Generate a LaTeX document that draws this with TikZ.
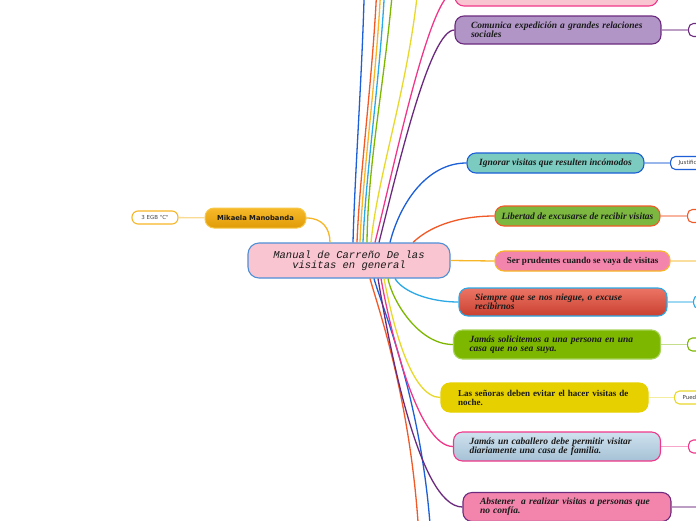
\documentclass[tikz,border=0pt]{standalone}
\usepackage{fontspec}
\setmainfont{Liberation Serif}
\newfontfamily\cmono{Liberation Mono}
\newfontfamily\csans{DejaVu Sans}
\usetikzlibrary{calc}
\definecolor{txt}{HTML}{1A1A1A}
\definecolor{cpink}{HTML}{F9C5D1}
\definecolor{cblue}{HTML}{4E8FD6}
\definecolor{pinkL}{HTML}{F9C5D1}
\definecolor{pinkD}{HTML}{F0388A}
\definecolor{purL}{HTML}{B095C6}
\definecolor{purD}{HTML}{6C2A7E}
\definecolor{tealF}{HTML}{7BCBC0}
\definecolor{blueD}{HTML}{1C5FD6}
\definecolor{greenL}{HTML}{7CB83F}
\definecolor{orangeD}{HTML}{F05A28}
\definecolor{pinkM}{HTML}{F385AC}
\definecolor{orangeY}{HTML}{F6B626}
\definecolor{redT}{HTML}{EC7566}
\definecolor{redB}{HTML}{C9402F}
\definecolor{lblue}{HTML}{2AA9E6}
\definecolor{greenB}{HTML}{7DB700}
\definecolor{greenE}{HTML}{A8D35A}
\definecolor{yellowF}{HTML}{E6D000}
\definecolor{yellowD}{HTML}{E8D82A}
\definecolor{lbT}{HTML}{CFE2EF}
\definecolor{lbB}{HTML}{A5C1D5}
\definecolor{mikT}{HTML}{F7BA2A}
\definecolor{mikB}{HTML}{E09B07}
\definecolor{mikE}{HTML}{F5C84A}
\tikzset{
  mbox/.style={rounded corners=9pt, line width=1.1pt, inner ysep=0pt, inner xsep=16pt,
    align=left, text=txt, font=\fontsize{9.5}{9}\selectfont\bfseries\itshape},
  sbox/.style={rounded corners=9pt, line width=1.1pt, inner ysep=0pt, inner xsep=0pt,
    align=center, text=txt, font=\fontsize{9.5}{9}\selectfont\bfseries\itshape},
  upright/.style={font=\fontsize{9}{9}\selectfont\bfseries},
  tag/.style={rounded corners=5pt, line width=1.1pt, fill=white, anchor=west,
    minimum height=13pt, inner xsep=8pt, inner ysep=0pt, text width=34pt, align=left,
    text=txt!85, font=\csans\fontsize{5.5}{5.5}\selectfont},
  link/.style={line width=1.3pt},
  tlink/.style={line width=1.5pt, opacity=0.45}
}
\begin{document}
\begin{tikzpicture}[x=1pt,y=-1pt]
\fill[white] (0,0) rectangle (696,520);
\useasboundingbox (0,0) rectangle (696,520);

% central node
\node[draw=cblue, fill=cpink, rounded corners=11pt, line width=1.1pt, minimum width=202pt,
  minimum height=35pt, inner ysep=0pt, align=center, text=txt,
  font=\cmono\itshape\fontsize{10.5}{10}\selectfont] (center) at (349,260.5)
  {Manual de Carreño De las\\visitas en general};

% left side
\node[top color=mikT, bottom color=mikB, draw=mikE, rounded corners=9pt, line width=1pt,
  minimum width=101pt, minimum height=20pt, inner ysep=0pt, text=txt,
  font=\csans\bfseries\fontsize{6.8}{7}\selectfont] (mik) at (255.5,218) {Mikaela Manobanda};
\node[draw=orangeY, fill=white, rounded corners=6pt, line width=1.1pt, minimum width=46pt,
  minimum height=13pt, inner ysep=0pt, text=txt!80,
  font=\csans\fontsize{5.5}{5.5}\selectfont] (egb) at (155,217.5) {3 EGB "C"};

% right side main nodes
\node[mbox, fill=pinkL, draw=pinkD, minimum width=203pt, minimum height=28pt] (topn) at (556.5,-8) {};
\node[mbox, fill=purL, draw=purD, text width=174pt, minimum height=28pt] (comunica) at (558,30)
  {Comunica expedición a grandes relaciones\\sociales};
\node[sbox, fill=tealF, draw=blueD, minimum width=177pt, minimum height=20pt] (ignorar) at (555.5,163)
  {Ignorar visitas que resulten incómodos};
\node[sbox, fill=greenL, draw=orangeD, minimum width=165pt, minimum height=20pt] (libertad) at (577.5,216)
  {Libertad de excusarse de recibir visitas};
\node[sbox, upright, fill=pinkM, draw=orangeY, minimum width=175pt, minimum height=20pt] (prudentes) at (582.5,261)
  {Ser prudentes cuando se vaya de visitas};
\node[mbox, top color=redT, bottom color=redB, draw=lblue, text width=176pt, minimum height=28pt] (siempre) at (563,302)
  {Siempre que se nos niegue, o excuse\\recibirnos};
\node[mbox, fill=greenB, draw=greenE, text width=175pt, minimum height=29pt] (solicit) at (557,344.5)
  {Jamás solicitemos a una persona en una\\casa que no sea suya.};
\node[mbox, upright, fill=yellowF, draw=yellowF, inner xsep=17pt, text width=173pt, minimum height=29pt] (senoras) at (544.5,397.5)
  {Las señoras deben evitar el hacer visitas de\\noche.};
\node[mbox, top color=lbT, bottom color=lbB, draw=pinkD, text width=175pt, minimum height=29pt] (caballero) at (557,446.5)
  {Jamás un caballero debe permitir visitar\\diariamente una casa de familia.};
\node[mbox, fill=pinkM, draw=purD, inner xsep=17pt, text width=174pt, minimum height=29pt] (abstener) at (567,507)
  {Abstener\ \ a realizar visitas a personas que\\no confía.};

% tags at right edge
\node[tag, draw=purD] (t1) at (688,30) {};
\node[tag, draw=blueD] (t2) at (670,163) {Justificar};
\node[tag, draw=orangeD] (t3) at (687,216) {};
\node[tag, draw=lblue] (t4) at (693,302) {};
\node[tag, draw=greenB] (t5) at (687,344.5) {};
\node[tag, draw=yellowD] (t6) at (674,397.5) {Pueden};
\node[tag, draw=pinkD] (t7) at (688,446.5) {};
\coordinate (prend) at (710,261);
\coordinate (abend) at (710,507);

% off-page ends
\coordinate (up1) at (365,-60);
\coordinate (up2) at (378,-60);
\coordinate (up3) at (382,-60);
\coordinate (up4) at (386,-60);
\coordinate (up5) at (396,-60);
\coordinate (up6) at (421,-60);
\coordinate (dn1) at (420,560);
\coordinate (dn2) at (432,560);

% connectors upward
\draw[link, blueD] ([xshift=4pt]center.north) .. controls (355,163) and (365,40) .. (up1);
\draw[link, orangeD] ([xshift=8pt]center.north) .. controls (360,163) and (378,40) .. (up2);
\draw[link, orangeY] ([xshift=11pt]center.north) .. controls (363,163) and (382,40) .. (up3);
\draw[link, lblue] ([xshift=14pt]center.north) .. controls (366,163) and (386,40) .. (up4);
\draw[link, greenB] ([xshift=18pt]center.north) .. controls (368,150) and (390,60) .. (up5);
\draw[link, yellowD] ([xshift=22pt]center.north) .. controls (379,163) and (418,60) .. (up6);
\draw[link, pinkD] ([xshift=26pt]center.north) .. controls (395,163) and (430,-8) .. (topn.west);
\draw[link, purD] ([xshift=30pt]center.north) .. controls (399,163) and (430,30) .. (comunica.west);
\draw[link, blueD] ([xshift=41pt]center.north) .. controls (400,203) and (427,163) .. (ignorar.west);
\draw[link, orangeD] ([xshift=64pt]center.north) .. controls (428,228) and (455,216) .. (libertad.west);
\draw[link, orangeY] (mik.east) .. controls (322,218) and (330,228) .. ([xshift=-19pt]center.north);
\draw[link, orangeY!50] (egb) -- (mik);
\draw[link, orangeY] (center.east) -- (prudentes.west);

% connectors downward
\draw[link, orangeD] ([xshift=21pt]center.south) .. controls (378,308) and (415,410) .. (dn1);
\draw[link, blueD] ([xshift=25pt]center.south) .. controls (382,308) and (427,410) .. (dn2);
\draw[link, purD] ([xshift=29pt]center.south) .. controls (388,338) and (418,507) .. (abstener.west);
\draw[link, pinkD] ([xshift=32pt]center.south) .. controls (390,330) and (418,446.5) .. (caballero.west);
\draw[link, yellowD] ([xshift=35pt]center.south) .. controls (392,320) and (410,397.5) .. (senoras.west);
\draw[link, greenB] ([xshift=39pt]center.south) .. controls (392,300) and (418,344.5) .. (solicit.west);
\draw[link, lblue] ([xshift=46pt]center.south) .. controls (403,292) and (430,302) .. (siempre.west);

% right thin connectors
\draw[tlink, purD] (comunica.east) -- (t1.west);
\draw[tlink, blueD] (ignorar.east) -- (t2.west);
\draw[tlink, orangeD] (libertad.east) -- (t3.west);
\draw[tlink, orangeY] (prudentes.east) -- (prend);
\draw[tlink, lblue] (siempre.east) -- (t4.west);
\draw[tlink, greenB] (solicit.east) -- (t5.west);
\draw[tlink, yellowD] (senoras.east) -- (t6.west);
\draw[tlink, pinkD] (caballero.east) -- (t7.west);
\draw[tlink, purD] (abstener.east) -- (abend);
\end{tikzpicture}
\end{document}
